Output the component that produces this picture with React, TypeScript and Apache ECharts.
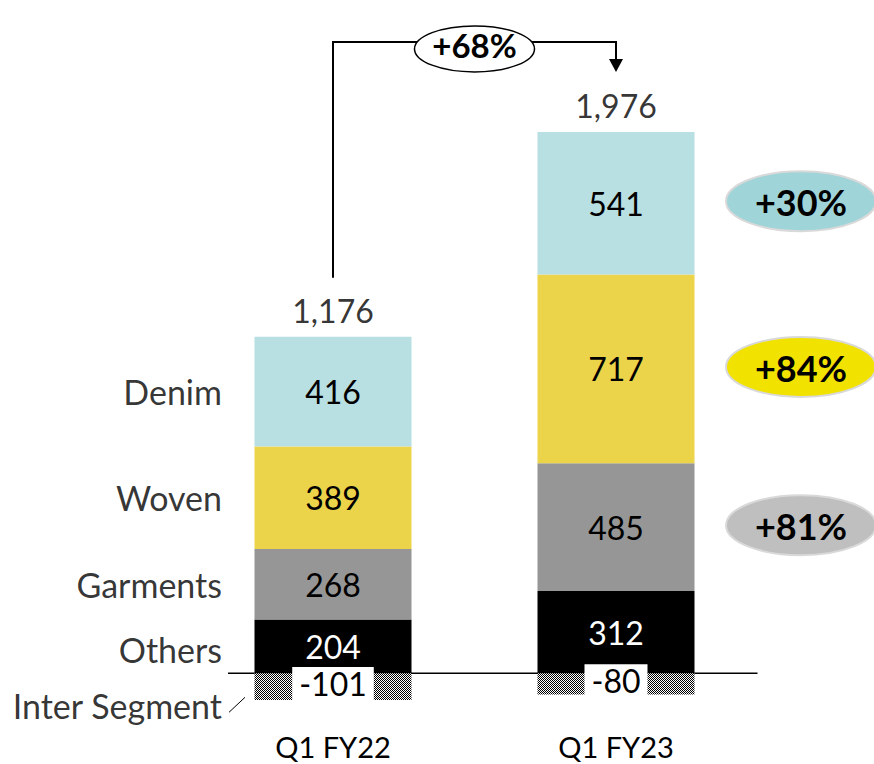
import React, { useEffect, useRef } from 'react';
import * as echarts from 'echarts';

const categories = ['Q1 FY22', 'Q1 FY23'];
const others = [204, 312];
const garments = [268, 485];
const woven = [389, 717];
const denim = [416, 541];
const interSegment = [-101, -80];
const totals = [1176, 1976];
const segmentNames = ['Others', 'Garments', 'Woven', 'Denim', 'Inter Segment'];
const segmentColors = ['#000000', '#969696', '#ECD44A', '#B8DFE2'];
const badgeColors = ['#BFBFBF', '#F2E200', '#9FD4D8']; // garments, woven, denim

const FONT = 'Lato, "Open Sans", sans-serif';

function makeChecker(): HTMLCanvasElement {
  const c = document.createElement('canvas');
  c.width = 2;
  c.height = 2;
  const ctx = c.getContext('2d')!;
  ctx.fillStyle = '#ffffff';
  ctx.fillRect(0, 0, 2, 2);
  ctx.fillStyle = '#000000';
  ctx.fillRect(0, 0, 1, 1);
  ctx.fillRect(1, 1, 1, 1);
  return c;
}

export default function App() {
  const ref = useRef<HTMLDivElement>(null);
  useEffect(() => {
    if (!ref.current) return;
    const chart = echarts.init(ref.current, null, { renderer: 'svg' });
    const positiveSeries = [others, garments, woven, denim];
    const posSum = categories.map((_, i) => positiveSeries.reduce((s, a) => s + a[i], 0));
    const mids0: number[] = [];
    const mids1: number[] = [];
    let acc0 = 0, acc1 = 0;
    positiveSeries.forEach((a) => {
      mids0.push(acc0 + a[0] / 2);
      mids1.push(acc1 + a[1] / 2);
      acc0 += a[0];
      acc1 += a[1];
    });
    mids0.push(interSegment[0] / 2);

    const checker = makeChecker();
    const labelBase = { fontFamily: FONT, fontSize: 32, color: '#000' };

    const barSeries: any[] = positiveSeries.map((arr, k) => ({
      name: segmentNames[k],
      type: 'bar',
      stack: 'total',
      barWidth: 157,
      data: arr,
      itemStyle: { color: segmentColors[k] },
      label: {
        show: true,
        position: 'inside',
        ...labelBase,
        color: k === 0 ? '#fff' : '#000',
      },
    }));
    barSeries.push({
      name: 'Inter Segment',
      type: 'bar',
      stack: 'total',
      barWidth: 157,
      data: interSegment,
      itemStyle: {
        color: { image: checker, repeat: 'repeat', imageWidth: 2, imageHeight: 2 } as any,
      },
      label: {
        show: true,
        position: 'inside',
        ...labelBase,
        backgroundColor: '#fff',
        padding: [1, 7, 0, 7],
        offset: [0, -3],
      },
      z: 3,
    });

    const nameSeries = {
      name: 'names',
      type: 'scatter',
      symbolSize: 0,
      silent: true,
      data: segmentNames.map((n, k) => ({
        value: [0, mids0[k]],
        name: n,
        label: k === 4 ? { offset: [0, 19] } : k === 0 ? { offset: [0, 3] } : {},
      })),
      label: {
        show: true,
        position: 'left',
        distance: 111,
        ...labelBase,
        fontSize: 34,
        formatter: (p: any) => p.name,
      },
      z: 5,
    };

    const totalSeries = {
      name: 'totals',
      type: 'scatter',
      symbolSize: 0,
      silent: true,
      data: posSum.map((v, i) => ({ value: [i, v], name: String(totals[i]) })),
      label: {
        show: true,
        position: 'top',
        distance: 10,
        ...labelBase,
        formatter: (p: any) => totals[p.dataIndex].toLocaleString('en-US'),
      },
      z: 5,
    };

    chart.setOption({
      animation: false,
      grid: { left: 191.5, right: 116.5, top: 41, bottom: 38 },
      xAxis: {
        type: 'category',
        data: categories,
        axisLine: { show: false, onZero: false },
        axisTick: { show: false },
        axisLabel: { fontFamily: FONT, fontSize: 29, lineHeight: 29, color: '#000', margin: 6 },
      },
      yAxis: { type: 'value', min: -200, max: 2400, show: false, splitLine: { show: false } },
      series: [...barSeries, nameSeries, totalSeries],
    });

    const px = (i: number, v: number) => chart.convertToPixel({ gridIndex: 0 }, [i, v]) as number[];
    const [x0, yZero] = px(0, 0);
    const [x1] = px(1, 0);
    const top0 = px(0, posSum[0])[1];
    const top1 = px(1, posSum[1])[1];
    const gridRight = 874 - 116.5;
    const yBracket = top1 - 90;
    const tip = top1 - 60;
    const growth = Math.round((totals[1] / totals[0] - 1) * 100);

    const segGrowth = [1, 2, 3].map((k) => Math.round((positiveSeries[k][1] / positiveSeries[k][0] - 1) * 100));

    const graphics: any[] = [
      {
        type: 'line',
        shape: { x1: x0 - 105, y1: yZero, x2: gridRight, y2: yZero },
        style: { stroke: '#000', lineWidth: 1.5 },
        z: 1,
      },
      {
        type: 'line',
        shape: { x1: x0 - 104, y1: yZero + 39, x2: x0 - 88, y2: yZero + 24 },
        style: { stroke: '#000', lineWidth: 1 },
        z: 10,
      },
      {
        type: 'polyline',
        shape: { points: [[x0, top0 - 59], [x0, yBracket], [x1, yBracket], [x1, tip - 11]] },
        style: { stroke: '#000', lineWidth: 2, fill: null },
        z: 10,
      },
      {
        type: 'polygon',
        shape: { points: [[x1 - 7, tip - 13], [x1 + 7, tip - 13], [x1, tip]] },
        style: { fill: '#000' },
        z: 10,
      },
      {
        type: 'ellipse',
        shape: { cx: (x0 + x1) / 2, cy: yBracket + 7, rx: 60, ry: 23 },
        style: { fill: '#fff', stroke: '#000', lineWidth: 1.5 },
        z: 11,
      },
      {
        type: 'text',
        x: (x0 + x1) / 2,
        y: yBracket + 3,
        style: {
          text: '+' + growth + '%',
          align: 'center',
          verticalAlign: 'middle',
          fontFamily: FONT,
          fontSize: 33,
          fontWeight: 'bold',
          fill: '#000',
        },
        z: 12,
      },
    ];
    [1, 2, 3].forEach((k, j) => {
      const cy = px(1, mids1[k])[1];
      const cx = x1 + 185;
      graphics.push({
        type: 'ellipse',
        shape: { cx, cy: cy - 2, rx: 75, ry: 30 },
        style: { fill: badgeColors[j], stroke: '#D9D9D9', lineWidth: 2 },
        z: 11,
      });
      graphics.push({
        type: 'text',
        x: cx,
        y: cy - 1,
        style: {
          text: '+' + segGrowth[j] + '%',
          align: 'center',
          verticalAlign: 'middle',
          fontFamily: FONT,
          fontSize: 36,
          fontWeight: 'bold',
          fill: '#000',
        },
        z: 12,
      });
    });

    chart.setOption({ graphic: graphics });

    return () => chart.dispose();
  }, []);

  return (
    <div
      ref={ref}
      style={{ position: 'absolute', left: 0, top: 0, width: 874, height: 764, background: '#fff' }}
    />
  );
}
